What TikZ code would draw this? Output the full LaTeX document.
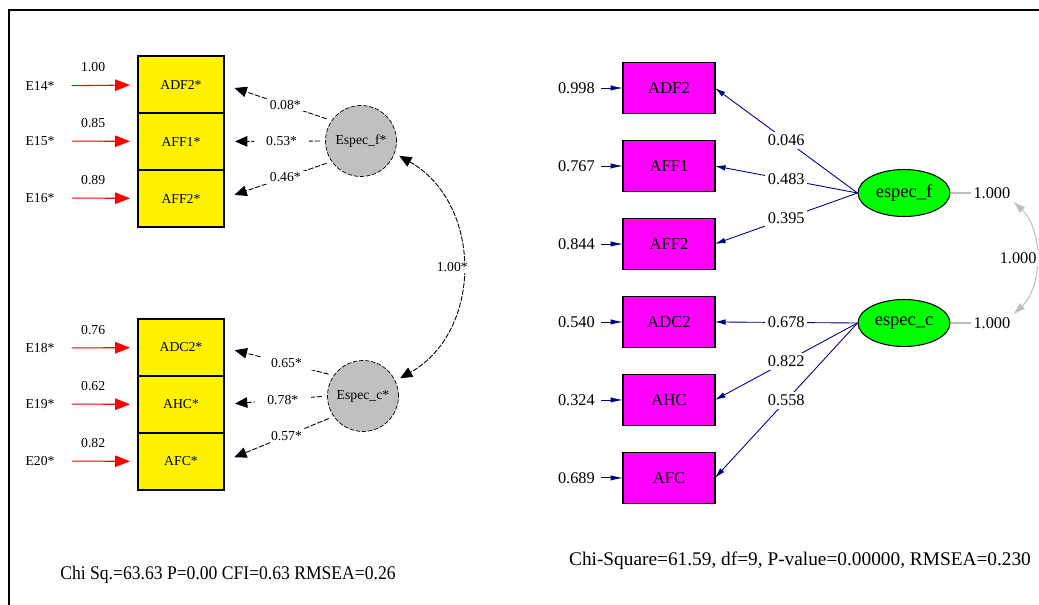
\documentclass[tikz,border=0pt]{standalone}
\usepackage{fontspec}
\setmainfont{Liberation Serif}
\usepackage{xcolor}
\usetikzlibrary{positioning, arrows.meta, shapes.geometric}

\definecolor{latgray}{RGB}{192,192,192}
\definecolor{magbox}{RGB}{255,0,255}
\definecolor{grnlat}{RGB}{0,255,0}
\definecolor{navyln}{RGB}{0,0,128}
\definecolor{corgray}{RGB}{190,190,190}

\begin{document}
\begin{tikzpicture}[
        x=0.02cm, y=-0.02cm,
        small/.style={font=\fontsize{7.8}{9}\selectfont},
        mid/.style={font=\fontsize{9.3}{11}\selectfont},
        ybox/.style={draw, fill=yellow, line width=0.7pt, minimum width=1.72cm, minimum height=1.14cm, inner sep=0pt, outer sep=0pt, small},
        mbox/.style={draw, fill=magbox, line width=0.6pt, minimum width=1.84cm, minimum height=1.02cm, inner sep=0pt, outer sep=0pt, font=\fontsize{9.5}{11}\selectfont},
        latcirc/.style={circle, draw, dash pattern=on 2.5pt off 1pt, fill=latgray, minimum size=1.42cm, inner sep=0pt, small},
        latell/.style={ellipse, draw, fill=grnlat, line width=0.6pt, minimum width=1.84cm, minimum height=0.94cm, inner sep=0pt, font=\fontsize{10.5}{12}\selectfont},
        redarr/.style={red, line width=0.6pt, -{Triangle[length=8.5pt,width=6.5pt]}, shorten <=6.5pt, shorten >=4.5pt},
        blkarr/.style={line width=0.5pt, dash pattern=on 3pt off 1pt, -{Triangle[length=7pt,width=6pt]}, shorten <=3pt, shorten >=6.3pt},
        blklbl/.style={fill=white, inner xsep=7pt, inner ysep=1pt, small},
        navyarr/.style={navyln, line width=0.5pt, -{Latex[length=6pt,width=3.2pt]}},
        numlbl/.style={fill=white, text=black, inner sep=1.5pt, mid},
        grayln/.style={corgray, line width=0.6pt},
    ]
    \useasboundingbox (0,0) rectangle (1039,605);
    \clip (0,0) rectangle (1039,605);
    \draw[line width=0.85pt] (9,700) |- (1100,10);

    % Left model: indicators
    \node[ybox] (adf2) at (181,84.5) {ADF2*};
    \node[ybox, below=0pt of adf2] (aff1) {AFF1*};
    \node[ybox, below=0pt of aff1] (aff2) {AFF2*};
    \node[ybox] (adc2) at (181,347.5) {ADC2*};
    \node[ybox, below=0pt of adc2] (ahc) {AHC*};
    \node[ybox, below=0pt of ahc] (afc) {AFC*};

    % Left model: error terms
    \node[small] (e14) at (40,86) {E14*};
    \node[small] (e15) at (40,141) {E15*};
    \node[small] (e16) at (40,198) {E16*};
    \node[small] (e18) at (40,348) {E18*};
    \node[small] (e19) at (40,404) {E19*};
    \node[small] (e20) at (40,461) {E20*};
    \foreach \e/\b/\v in {e14/adf2/1.00, e15/aff1/0.85, e16/aff2/0.89, e18/adc2/0.76, e19/ahc/0.62, e20/afc/0.82} {
        \draw[redarr] (\e) -- node[pos=0.42, above=4pt, text=black, small] {\v} (\b);
    }

    % Left model: factors
    \node[latcirc] (espf) at (361,141) {Espec\_f*};
    \node[latcirc] (espc) at (363,396) {Espec\_c*};

    % Left model: loadings
    \draw[blkarr] (espf.145) -- node[pos=0.43, blklbl] {0.08*} (adf2.east);
    \draw[blkarr] (espf.180) -- node[pos=0.43, blklbl] {0.53*} (aff1.east);
    \draw[blkarr] (espf.215) -- node[pos=0.43, blklbl] {0.46*} (aff2.east);
    \draw[blkarr] (espc.145) -- node[pos=0.43, blklbl] {0.65*} (adc2.east);
    \draw[blkarr] (espc.180) -- node[pos=0.43, blklbl] {0.78*} (ahc.east);
    \draw[blkarr] (espc.215) -- node[pos=0.43, blklbl] {0.57*} (afc.east);

    % Left model: correlation
    \draw[line width=0.5pt, dash pattern=on 3pt off 0.8pt, {Triangle[length=7pt,width=6pt]}-{Triangle[length=7pt,width=6pt]}, shorten <=3pt, shorten >=3pt]
        (espf.-20) .. controls +(88,50) and +(88,-50) .. (espc.25)
        node[pos=0.5, xshift=-5pt, fill=white, inner sep=1pt, small] {1.00*};

    % Right model: indicators
    \node[mbox] (radf2) at (669,88) {ADF2};
    \node[mbox, below=0.54cm of radf2] (raff1) {AFF1};
    \node[mbox, below=0.54cm of raff1] (raff2) {AFF2};
    \node[mbox, below=0.54cm of raff2] (radc2) {ADC2};
    \node[mbox, below=0.54cm of radc2] (rahc) {AHC};
    \node[mbox, below=0.54cm of rahc] (rafc) {AFC};

    % Right model: error variances
    \node[mid, left=0.44cm of radf2] (d1) {0.998};
    \node[mid, left=0.44cm of raff1] (d2) {0.767};
    \node[mid, left=0.44cm of raff2] (d3) {0.844};
    \node[mid, left=0.44cm of radc2] (d4) {0.540};
    \node[mid, left=0.44cm of rahc] (d5) {0.324};
    \node[mid, left=0.44cm of rafc] (d6) {0.689};
    \foreach \d/\b in {d1/radf2, d2/raff1, d3/raff2, d4/radc2, d5/rahc, d6/rafc} {
        \draw[navyarr, -{Latex[length=7pt,width=3pt]}] (\d) -- (\b);
    }

    % Right model: factors
    \node[latell] (respf) at (904,193) {espec\_f};
    \node[latell] (respc) at (904,323) {espec\_c};

    % Right model: loadings
    \draw[navyarr] (respf.west) -- node[numlbl] {0.046} (radf2.east);
    \draw[navyarr] (respf.west) -- node[numlbl] {0.483} (raff1.east);
    \draw[navyarr] (respf.west) -- node[numlbl] {0.395} (raff2.east);
    \draw[navyarr] (respc.west) -- node[numlbl] {0.678} (radc2.east);
    \draw[navyarr] (respc.west) -- node[numlbl] {0.822} (rahc.east);
    \draw[navyarr] (respc.west) -- node[numlbl] {0.558} (rafc.east);

    % Right model: factor variances and correlation
    \node[numlbl, right=0.4cm of respf] (vf) {1.000};
    \node[numlbl, right=0.4cm of respc] (vc) {1.000};
    \draw[grayln] (respf) -- (vf);
    \draw[grayln] (respc) -- (vc);
    \draw[grayln, {Latex[length=7pt,width=4.5pt]}-{Latex[length=7pt,width=4.5pt]}]
        (vf.south east) .. controls +(30,28) and +(30,-28) .. (vc.north east)
        node[pos=0.5, xshift=-10pt, numlbl] {1.000};

    % Fit statistics
    \node[font=\fontsize{11}{13}\selectfont] (fitl) at (228,575) {\scalebox{0.91}[1]{Chi Sq.=63.63 P=0.00 CFI=0.63 RMSEA=0.26}};
    \node[font=\fontsize{11}{13}\selectfont] (fitr) at (800,561) {Chi-Square=61.59, df=9, P-value=0.00000, RMSEA=0.230};

\end{tikzpicture}
\end{document}
